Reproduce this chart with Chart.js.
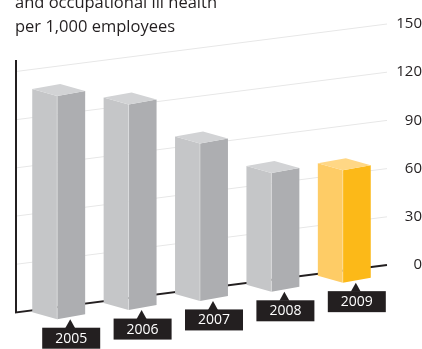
<!DOCTYPE html>
<html><head><meta charset="utf-8">
<script src="https://cdn.jsdelivr.net/npm/chart.js@4.4.1/dist/chart.umd.min.js"></script>
<style>
html,body{margin:0;padding:0;background:#fff;overflow:hidden;}
#wrap{position:relative;width:422px;height:349px;overflow:hidden;}
#title{position:absolute;left:15px;top:-10px;font:16.5px/24px "Open Sans",sans-serif;color:#231f20;white-space:nowrap;}
canvas{position:absolute;left:0;top:0;}
</style></head><body>
<div id="wrap"><canvas id="c" width="422" height="349"></canvas>
<div id="title">and occupational ill health<br>per 1,000 employees</div></div>
<script>
// ---- data ----
const years = ['2005', '2006', '2007', '2008', '2009'];
const rates = [139, 128, 98, 74, 70];
const yMin = 0, yMax = 150, yStep = 30;

// ---- styles ----
const GRAY = {front: '#c5c6c8', side: '#adaeb1', top: '#d2d3d5'};
const GOLD = {front: '#fecc66', side: '#fcb918', top: '#ffd785'};
const highlightIndex = years.length - 1;
const K = 0.128;      // perspective slope of the floor / grid
const XR = 387, XL = 17, AXIS_X = 16, AXIS_TOP = 60;
const D = 12;         // bars stand in front of the back wall
function shiftAt(x) { return K * (XR - x); }

const box3d = {
  id: 'box3d',
  beforeDatasetsDraw(chart) {
    const ctx = chart.ctx, ys = chart.scales.y;
    ctx.save();
    ys.ticks.forEach(t => {
      if (t.value === 0) return;
      const yr = ys.getPixelForValue(t.value);
      ctx.strokeStyle = '#e7e7e7'; ctx.lineWidth = 1;
      ctx.beginPath(); ctx.moveTo(XL, yr + shiftAt(XL)); ctx.lineTo(XR, yr); ctx.stroke();
    });
    const y0 = ys.getPixelForValue(0);
    ctx.strokeStyle = '#231f20'; ctx.lineWidth = 2;
    ctx.beginPath();
    ctx.moveTo(AXIS_X, AXIS_TOP);
    ctx.lineTo(AXIS_X, y0 + shiftAt(AXIS_X));
    ctx.lineTo(XR, y0);
    ctx.stroke();
    ctx.restore();
  },
  afterDatasetsDraw(chart) {
    const ctx = chart.ctx;
    const meta = chart.getDatasetMeta(0);
    ctx.save();
    meta.data.forEach((bar, i) => {
      const p = bar.getProps(['x', 'y', 'base', 'width'], true);
      const w = p.width, fw = w * 25 / 53, sw = w * 28 / 53;
      const xm = p.x - w / 2 + fw;
      const s = shiftAt(xm) + D;
      const yt = p.y + s, yb = p.base + s;
      const c = i === highlightIndex ? GOLD : GRAY;
      const poly = (pts, col) => {
        ctx.beginPath();
        ctx.moveTo(pts[0][0], pts[0][1]);
        for (let k = 1; k < pts.length; k++) ctx.lineTo(pts[k][0], pts[k][1]);
        ctx.closePath();
        ctx.fillStyle = col; ctx.fill();
      };
      // front face
      poly([[xm - fw, yt - 7], [xm, yt], [xm, yb], [xm - fw, yb - 7]], c.front);
      // side face
      poly([[xm, yt], [xm + sw, yt - 5], [xm + sw, yb - 5], [xm, yb]], c.side);
      // top face
      poly([[xm - fw, yt - 7], [xm - fw + sw, yt - 12], [xm + sw, yt - 5], [xm, yt]], c.top);
      // subtle edge highlight
      ctx.strokeStyle = 'rgba(255,255,255,0.45)'; ctx.lineWidth = 0.8;
      ctx.beginPath(); ctx.moveTo(xm, yt); ctx.lineTo(xm, yb); ctx.stroke();

      // label tag
      const cx = xm + 14, top = yb + 8.5;
      ctx.fillStyle = '#231f20';
      ctx.beginPath();
      ctx.moveTo(xm + 13, yb);
      ctx.lineTo(xm + 18, top + 0.5);
      ctx.lineTo(xm + 8, top + 0.5);
      ctx.closePath(); ctx.fill();
      ctx.fillRect(cx - 29, top, 58, 21);
      ctx.fillStyle = '#ffffff';
      ctx.font = '14px "Open Sans", sans-serif';
      ctx.textAlign = 'center'; ctx.textBaseline = 'middle';
      ctx.fillText(chart.data.labels[i], cx, top + 11);
    });
    ctx.restore();
  }
};

new Chart(document.getElementById('c'), {
  type: 'bar',
  data: {
    labels: years,
    datasets: [{
      data: rates,
      backgroundColor: 'rgba(0,0,0,0)',
      borderWidth: 0,
      categoryPercentage: 1,
      barPercentage: 53 / 71.5
    }]
  },
  options: {
    responsive: false,
    animation: false,
    devicePixelRatio: 1,
    layout: {padding: {left: 23, top: 21, bottom: 84, right: 0}},
    plugins: {legend: {display: false}, tooltip: {enabled: false}, title: {display: false}},
    scales: {
      x: {display: false, offset: true},
      y: {
        position: 'right',
        min: yMin, max: yMax,
        grid: {display: false},
        border: {display: false},
        afterFit(scale) { scale.width = 42; },
        ticks: {
          stepSize: yStep,
          crossAlign: 'far',
          padding: 15,
          color: '#231f20',
          font: {family: '"Open Sans", sans-serif', size: 15}
        }
      }
    }
  },
  plugins: [box3d]
});
</script>
</body></html>
